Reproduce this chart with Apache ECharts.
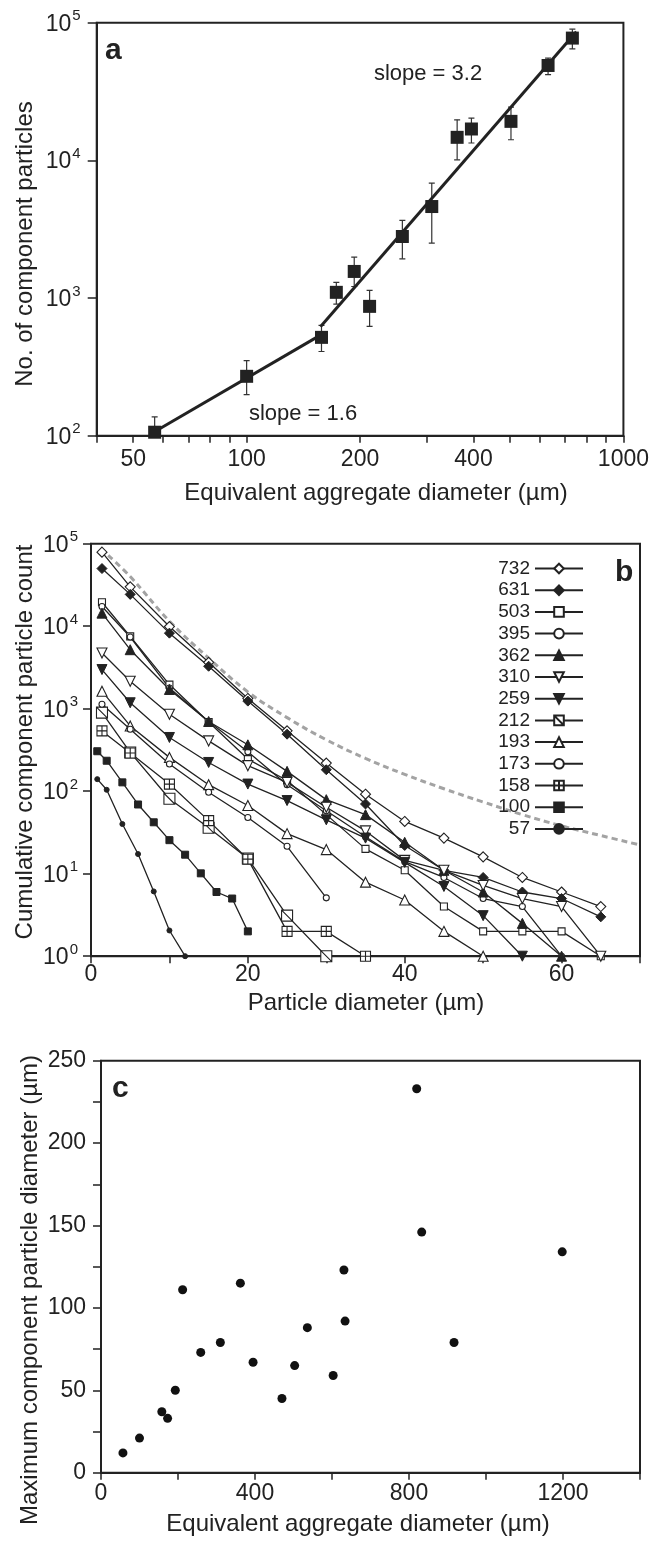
<!DOCTYPE html>
<html><head><meta charset="utf-8">
<script src="https://cdn.jsdelivr.net/npm/echarts@6/dist/echarts.min.js"></script>
<style>html,body{margin:0;padding:0;background:#fff}#c{width:652px;height:1541px}</style>
</head><body><div id="c"></div>
<script>
// ---------- Panel a data ----------
const aggDiam = [57,100,158,173,193,212,259,310,362,395,503,631,732];
const compCount = [106,270,518,1100,1560,870,2800,4620,14700,16900,19200,48900,77300];
const compErrLow = [80,199,409,904,1213,622,1928,2506,10090,13370,14120,41900,64500];
const compErrHigh = [137,351,632,1300,1985,1135,3660,6840,19700,20300,24400,55300,89800];
const fitSmallX = [58,157];
const fitSmallY = [110,538];
const fitLargeX = [157,750];
const fitLargeY = [619,86000];
const aXTicks = [40,50,60,70,80,90,100,200,300,400,500,600,700,800,900,1000];
const aXLabels = [50,100,200,400,1000];
const aYTicks = [100,1000,10000,100000];

// ---------- Panel b data ----------
const bXBig = [1.4,5,10,15,20,25,30,35,40,45,50,55,60,65];
const bXSmall = [0.8,2,4,6,8,10,12,14,16,18,20];
const b732 = [79000,30000,9900,3650,1330,540,219,92,43,27,16,9,6,4];
const b631 = [50000,24300,8240,3270,1236,491,182,70,22,11,9,6,5,3];
const b503 = [19500,7520,1960,690,245,135,52,20,11,4,2,2,2,1];
const b395 = [17300,7400,1780,700,300,120,58,28,14,9,5,4,1];
const b362 = [14400,5190,1710,700,365,174,79,52,24,11,6,2.5,1];
const b310 = [4730,2150,856,407,204,128,64,33,14.5,11,7.2,5,4,1];
const b259 = [2980,1180,448,223,122,77,45,27,13.7,7,3.1,1];
const b212 = [896,295,81,36,15.3,3.1,1];
const b193 = [1630,618,257,120,67,30.6,19.6,7.9,4.8,2,1];
const b173 = [1130,563,214,97,48,21.5,5.1];
const b158X = [1.4,5,10,15,20,25,30,35];
const b158 = [538,290,122,44,15,2,2,1];
const b100 = [305,234,128,69,42,25.5,17,10.1,6,5,2];
const b57 = [140,104,40,17.3,6.1,2.05,1];
const refCurveX = [2.2,5,10,15,20,25,30,35,40,45,50,55,60,65,70];
const refCurveY = [72000,40000,11500,4100,1600,780,420,250,160,107,74,52,38,29,22.3];
const bXTicks = [0,10,20,30,40,50,60,70];
const bXLabels = [0,20,40,60];
const bYTicks = [1,10,100,1000,10000,100000];

// ---------- Panel c data ----------
const cAggDiam = [57,100,158,173,193,212,259,310,362,395,470,503,536,603,631,634,820,833,917,1198];
const cMaxDiam = [12,21,37,33,50,111,73,79,115,67,45,65,88,59,123,92,233,146,79,134];
const cXTicks = [0,200,400,600,800,1000,1200,1400];
const cXLabels = [0,400,800,1200];
const cYTicks = [0,25,50,75,100,125,150,175,200,225,250];
const cYLabels = [0,50,100,150,200,250];

// ---------- Texts ----------
const titleAX = 'Equivalent aggregate diameter (µm)';
const titleAY = 'No. of component particles';
const titleBX = 'Particle diameter (µm)';
const titleBY = 'Cumulative component particle count';
const titleCX = 'Equivalent aggregate diameter (µm)';
const titleCY = 'Maximum component particle diameter (µm)';
const slopeHigh = 'slope = 3.2';
const slopeLow = 'slope = 1.6';

const FF = '"Liberation Sans", Arial, sans-serif';
const INK = '#222';

function zip(xs, ys) { return ys.map((y, i) => [xs[i], y]); }
function plain(v) { return String(v); }
function pow10Label(v) { const e = Math.round(Math.log10(v)); return '{b|10}{s|' + e + '}'; }
const powRich = {
  b: { fontSize: 23, fontFamily: FF, color: INK, lineHeight: 26, verticalAlign: 'bottom' },
  s: { fontSize: 15, fontFamily: FF, color: INK, lineHeight: 15, verticalAlign: 'bottom', padding: [0, 0, 12, 1] }
};
function axisBase(ticks, tickLen) {
  return {
    axisLine: { show: true, onZero: false, lineStyle: { color: INK, width: 2 } },
    axisTick: { show: true, inside: false, length: tickLen, customValues: ticks, lineStyle: { color: INK, width: 1.5 } },
    splitLine: { show: false },
    minorTick: { show: false }
  };
}

const hollow = { color: '#fff', borderColor: INK, borderWidth: 1.1, opacity: 1 };
const filled = { color: INK, borderColor: INK, borderWidth: 1, opacity: 1 };
const pathBoxDiag = 'path://M0,0L10,0L10,10L0,10Z M0,0L10,10';
const pathBoxGrid = 'path://M0,0L10,0L10,10L0,10Z M5,0L5,10 M0,5L10,5';

function bSeries(name, xs, ys, symbol, size, style, rotate) {
  return {
    type: 'line', name: name, xAxisIndex: 1, yAxisIndex: 1,
    data: zip(xs, ys), symbol: symbol, symbolSize: size, symbolRotate: rotate || 0,
    itemStyle: style, lineStyle: { color: INK, width: 1.3 }, emphasis: { disabled: true },
    z: 3
  };
}

const chart = echarts.init(document.getElementById('c'), null, { renderer: 'canvas' });
const option = {
  animation: false,
  backgroundColor: '#fff',
  grid: [
    { left: 96.7, top: 22.7, width: 538.3, height: 413, show: true, borderColor: INK, borderWidth: 2 },
    { left: 91, top: 543.7, width: 549, height: 412.5, show: true, borderColor: INK, borderWidth: 2 },
    { left: 101, top: 1060.7, width: 539, height: 412, show: true, borderColor: INK, borderWidth: 2 }
  ],
  xAxis: [
    Object.assign(axisBase(aXTicks, 7), {
      type: 'log', logBase: 10, min: 40, max: 1000, gridIndex: 0,
      axisLabel: { customValues: aXLabels, formatter: plain, fontSize: 23, fontFamily: FF, color: INK, margin: 12 }
    }),
    Object.assign(axisBase(bXTicks, 7), {
      type: 'value', min: 0, max: 70, gridIndex: 1,
      axisLabel: { customValues: bXLabels, formatter: plain, fontSize: 23, fontFamily: FF, color: INK, margin: 7 }
    }),
    Object.assign(axisBase(cXTicks, 7), {
      type: 'value', min: 0, max: 1400, gridIndex: 2,
      axisLabel: { customValues: cXLabels, formatter: plain, fontSize: 23, fontFamily: FF, color: INK, margin: 9 }
    })
  ],
  yAxis: [
    Object.assign(axisBase(aYTicks, 9), {
      type: 'log', logBase: 10, min: 100, max: 100000, gridIndex: 0,
      axisLabel: { customValues: aYTicks, formatter: pow10Label, rich: powRich, margin: 16 }
    }),
    Object.assign(axisBase(bYTicks, 8), {
      type: 'log', logBase: 10, min: 1, max: 100000, gridIndex: 1,
      axisLabel: { customValues: bYTicks, formatter: pow10Label, rich: powRich, margin: 13 }
    }),
    Object.assign(axisBase(cYTicks, 8), {
      type: 'value', min: 0, max: 250, gridIndex: 2,
      axisLabel: { customValues: cYLabels, formatter: plain, fontSize: 23, fontFamily: FF, color: INK, margin: 15 }
    })
  ],
  legend: {
    data: ['732','631','503','395','362','310','259','212','193','173','158','100','57'],
    orient: 'vertical', right: 68, top: 559, align: 'right',
    itemWidth: 48, itemHeight: 12, itemGap: 2.7, selectedMode: false, padding: 0,
    textStyle: { fontSize: 19, fontFamily: FF, color: INK, lineHeight: 16 }
  },
  series: [
    // panel a
    {
      type: 'custom', xAxisIndex: 0, yAxisIndex: 0, clip: true, z: 3,
      data: aggDiam.map((d, i) => [d, compErrLow[i], compErrHigh[i]]),
      renderItem: function (params, api) {
        const x = api.value(0);
        const lo = api.coord([x, api.value(1)]);
        const hi = api.coord([x, api.value(2)]);
        const w = 3;
        const st = { stroke: '#333', lineWidth: 1.2 };
        return { type: 'group', children: [
          { type: 'line', shape: { x1: lo[0], y1: lo[1], x2: hi[0], y2: hi[1] }, style: st },
          { type: 'line', shape: { x1: hi[0] - w, y1: hi[1], x2: hi[0] + w, y2: hi[1] }, style: st },
          { type: 'line', shape: { x1: lo[0] - w, y1: lo[1], x2: lo[0] + w, y2: lo[1] }, style: st }
        ] };
      }
    },
    { type: 'line', xAxisIndex: 0, yAxisIndex: 0, data: zip(fitSmallX, fitSmallY), symbol: 'none', lineStyle: { color: INK, width: 3 }, z: 4 },
    { type: 'line', xAxisIndex: 0, yAxisIndex: 0, data: zip(fitLargeX, fitLargeY), symbol: 'none', lineStyle: { color: INK, width: 3 }, z: 4 },
    { type: 'scatter', xAxisIndex: 0, yAxisIndex: 0, data: zip(aggDiam, compCount), symbol: 'rect', symbolSize: 13, itemStyle: { color: INK, opacity: 1 }, z: 5 },
    // panel b
    { type: 'line', xAxisIndex: 1, yAxisIndex: 1, data: zip(refCurveX, refCurveY), symbol: 'none', smooth: 0.4,
      lineStyle: { color: '#a3a3a3', width: 3, type: [6, 4] }, z: 2 },
    bSeries('732', bXBig, b732, 'diamond', 10, hollow),
    bSeries('631', bXBig, b631, 'diamond', 10, filled),
    bSeries('503', bXBig, b503, 'rect', 7, hollow),
    bSeries('395', bXBig, b395, 'circle', 6, hollow),
    bSeries('362', bXBig, b362, 'triangle', 10, filled),
    bSeries('310', bXBig, b310, 'triangle', 10, hollow, 180),
    bSeries('259', bXBig, b259, 'triangle', 10, filled, 180),
    bSeries('212', bXBig, b212, pathBoxDiag, 11, hollow),
    bSeries('193', bXBig, b193, 'triangle', 10, hollow),
    bSeries('173', bXBig, b173, 'circle', 6, hollow),
    bSeries('158', b158X, b158, pathBoxGrid, 10, hollow),
    bSeries('100', bXSmall, b100, 'rect', 7, filled),
    bSeries('57', bXSmall, b57, 'circle', 5, filled),
    // panel c
    { type: 'scatter', xAxisIndex: 2, yAxisIndex: 2, data: zip(cAggDiam, cMaxDiam), symbol: 'circle', symbolSize: 9, itemStyle: { color: '#111', opacity: 1 } }
  ],
  graphic: [
    { type: 'text', x: 105, y: 51, style: { text: 'a', font: 'bold 30px ' + FF, fill: INK, verticalAlign: 'middle' } },
    { type: 'text', x: 615, y: 573, style: { text: 'b', font: 'bold 30px ' + FF, fill: INK, verticalAlign: 'middle' } },
    { type: 'text', x: 112, y: 1089, style: { text: 'c', font: 'bold 30px ' + FF, fill: INK, verticalAlign: 'middle' } },
    { type: 'text', x: 428, y: 74, style: { text: slopeHigh, font: '22px ' + FF, fill: INK, align: 'center', verticalAlign: 'middle' } },
    { type: 'text', x: 303, y: 414, style: { text: slopeLow, font: '22px ' + FF, fill: INK, align: 'center', verticalAlign: 'middle' } },
    { type: 'text', x: 376, y: 493, style: { text: titleAX, font: '24px ' + FF, fill: INK, align: 'center', verticalAlign: 'middle' } },
    { type: 'text', x: 25, y: 244, rotation: Math.PI / 2, style: { text: titleAY, font: '24px ' + FF, fill: INK, align: 'center', verticalAlign: 'middle' } },
    { type: 'text', x: 366, y: 1003, style: { text: titleBX, font: '24px ' + FF, fill: INK, align: 'center', verticalAlign: 'middle' } },
    { type: 'text', x: 25, y: 742, rotation: Math.PI / 2, style: { text: titleBY, font: '24px ' + FF, fill: INK, align: 'center', verticalAlign: 'middle' } },
    { type: 'text', x: 358, y: 1524, style: { text: titleCX, font: '24px ' + FF, fill: INK, align: 'center', verticalAlign: 'middle' } },
    { type: 'text', x: 30, y: 1290, rotation: Math.PI / 2, style: { text: titleCY, font: '24px ' + FF, fill: INK, align: 'center', verticalAlign: 'middle' } }
  ]
};
chart.setOption(option);
</script>
</body></html>
